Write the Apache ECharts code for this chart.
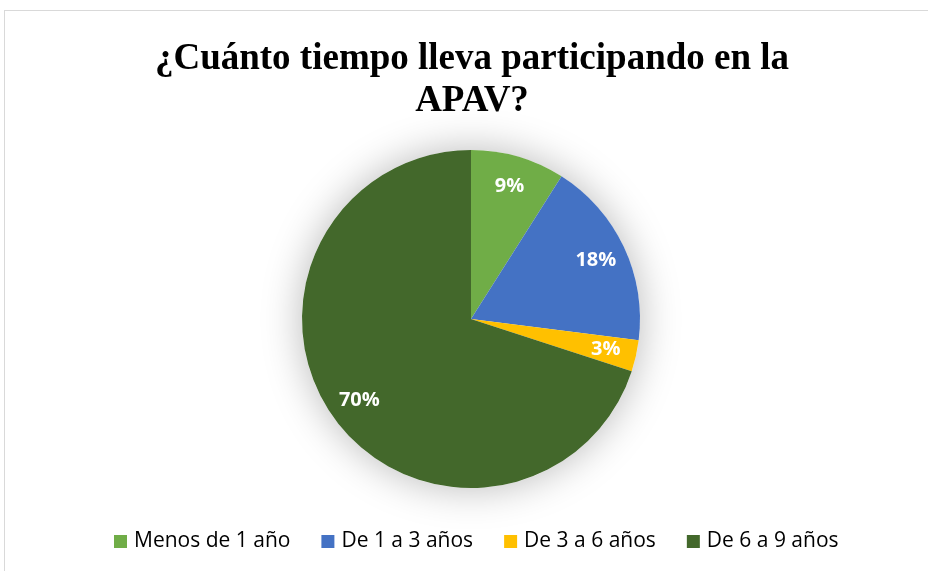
<!DOCTYPE html>
<html>
<head>
<meta charset="utf-8">
<script src="https://cdn.jsdelivr.net/npm/echarts@6/dist/echarts.min.js"></script>
<style>
  html, body { margin: 0; padding: 0; background: #ffffff; }
  #frame { position: absolute; left: 4px; top: 10px; width: 940px; height: 580px; border: 1px solid #d9d9d9; box-sizing: border-box; }
  #chart { position: absolute; left: 0; top: 0; width: 928px; height: 571px; }
</style>
</head>
<body>
<div id="frame"></div>
<div id="chart"></div>
<script>
const titleText = '¿Cuánto tiempo lleva participando en la\nAPAV?';
const categories = ['Menos de 1 año', 'De 1 a 3 años', 'De 3 a 6 años', 'De 6 a 9 años'];
const values = [9, 18, 3, 70];
const colors = ['#70ad47', '#4472c4', '#ffc000', '#43682b'];

const pieData = categories.map((name, i) => ({ name: name, value: values[i], itemStyle: { color: colors[i] } }));
const labelData = categories.map((name, i) => ({ name: name, value: values[i] }));

const chart = echarts.init(document.getElementById('chart'), null, { renderer: 'canvas' });
chart.setOption({
  backgroundColor: 'transparent',
  animation: false,
  color: colors,
  title: {
    text: titleText,
    left: 467,
    top: 33,
    textAlign: 'center',
    textStyle: {
      fontFamily: 'Liberation Serif',
      fontWeight: 'bold',
      fontSize: 37,
      lineHeight: 42,
      color: '#000000'
    }
  },
  legend: {
    data: categories,
    left: 114,
    top: 531,
    padding: 0,
    orient: 'horizontal',
    icon: 'rect',
    itemWidth: 13,
    itemHeight: 13,
    itemGap: 31,
    selectedMode: false,
    textStyle: {
      fontFamily: 'Open Sans',
      fontSize: 21,
      color: '#000000',
      padding: [0, 0, 0, 2]
    }
  },
  series: [
    {
      type: 'pie',
      name: 'shadow',
      silent: true,
      center: [471, 319],
      radius: [0, 169],
      z: 1,
      label: { show: false },
      labelLine: { show: false },
      itemStyle: { color: '#ffffff', shadowBlur: 40, shadowColor: 'rgba(0,0,0,0.28)' },
      data: [{ name: '', value: 1 }]
    },
    {
      type: 'pie',
      name: 'APAV',
      center: [471, 319],
      radius: [0, 169],
      startAngle: 90,
      clockwise: true,
      z: 2,
      label: { show: false },
      labelLine: { show: false },
      itemStyle: { borderWidth: 0 },
      emphasis: { disabled: true },
      data: pieData
    },
    {
      type: 'pie',
      name: 'labels',
      silent: true,
      center: [471, 319],
      radius: [101, 169],
      startAngle: 90,
      clockwise: true,
      z: 3,
      itemStyle: { color: 'rgba(0,0,0,0)' },
      labelLine: { show: false },
      label: {
        show: true,
        position: 'inside',
        formatter: '{c}%',
        fontFamily: 'Open Sans',
        fontWeight: 'bold',
        fontSize: 20,
        color: '#ffffff'
      },
      data: labelData
    }
  ]
});
</script>
</body>
</html>
